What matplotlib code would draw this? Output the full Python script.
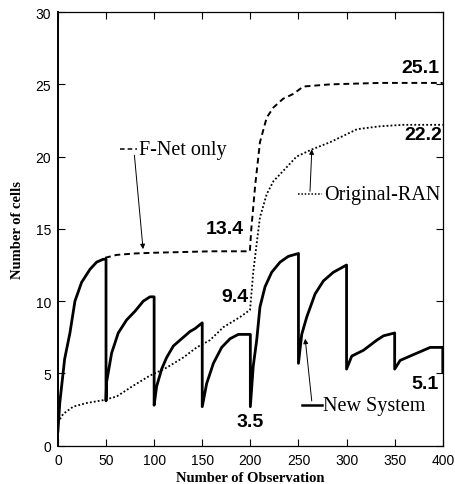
#!/usr/bin/env python3
import matplotlib

matplotlib.use("Agg")
import matplotlib.pyplot as plt

# New System (solid): resets every 50 observations
new_x = [0, 2, 7, 12.5, 17.7, 24.6, 33.3, 40.2, 47.1, 50, 50,
         50.6, 55.8, 62.7, 71.4, 80.1, 88.7, 95.7, 100, 100,
         102.6, 107.8, 113, 120, 128.6, 137.3, 142.5, 150, 150,
         154.6, 161.6, 170.2, 178.9, 187.5, 200, 200,
         203, 206.6, 210, 215.3, 222.2, 230.9, 239.5, 250, 250,
         253.4, 258.6, 267.3, 275.9, 286.3, 300, 300,
         305.4, 317.5, 331.4, 338.3, 350, 350,
         355.7, 366, 376.5, 386.9, 400, 400]
new_y = [1.0, 3.0, 6.0, 7.8, 10.0, 11.3, 12.2, 12.7, 12.9, 12.9, 3.1,
         4.4, 6.4, 7.8, 8.7, 9.3, 10.0, 10.3, 10.3, 2.8,
         4.1, 5.3, 6.1, 6.9, 7.4, 7.9, 8.1, 8.5, 2.7,
         4.3, 5.7, 6.8, 7.4, 7.7, 7.7, 2.7,
         5.5, 7.3, 9.6, 11.0, 12.0, 12.7, 13.1, 13.3, 5.7,
         7.7, 8.9, 10.5, 11.4, 12.0, 12.5, 5.3,
         6.2, 6.6, 7.3, 7.6, 7.8, 5.3,
         5.9, 6.2, 6.5, 6.8, 6.8, 5.1]

# F-Net only (dashed)
fnet_x = [49, 61, 80, 100, 130, 160, 199.5, 201, 205, 210, 217, 224,
          234, 245, 255, 283, 335, 400]
fnet_y = [13.0, 13.2, 13.3, 13.35, 13.4, 13.45, 13.45, 15.0, 18.0, 21.0,
          22.7, 23.4, 24.0, 24.35, 24.85, 25.0, 25.1, 25.1]

# Original-RAN (dotted)
ran_x = [0, 5.5, 15.9, 29.8, 47.1, 61, 78.3, 95.7, 113, 130.3, 144.2, 158,
         172, 189.3, 199.7, 203, 206.6, 210, 217, 224, 234, 248, 264, 283,
         311, 335, 359, 400]
ran_y = [1.6, 2.2, 2.7, 2.95, 3.15, 3.4, 4.15, 4.85, 5.4, 6.1, 6.8, 7.3,
         8.2, 8.9, 9.4, 12.0, 14.0, 15.8, 17.4, 18.3, 19.0, 20.0, 20.5, 21.0,
         21.9, 22.1, 22.2, 22.2]

# value callouts: (text, x, y, ha)
values = [("25.1", 396, 26.2, "right"), ("22.2", 399, 21.5, "right"),
          ("13.4", 193, 15.0, "right"), ("9.4", 198, 10.3, "right"),
          ("3.5", 200, 1.7, "center"), ("5.1", 396, 4.3, "right")]

SERIF = "Liberation Serif"
SANS = "Liberation Sans"
DASH = (0, (3, 2))
DOT = (0, (1, 1.2))


def label_with_sample(ax, x0, x1, y, text, ls, lw):
    ax.plot([x0, x1], [y, y], color="k", ls=ls, lw=lw, clip_on=False)
    ax.text(x1 + 2, y, text, family=SERIF, fontsize=14.5, va="center",
            ha="left")


def main() -> None:
    fig = plt.figure(figsize=(4.56, 4.85), dpi=100)
    ax = fig.add_axes([0.127, 0.079, 0.844, 0.894])

    ax.plot(ran_x, ran_y, color="k", lw=1.3, ls=DOT)
    ax.plot(fnet_x, fnet_y, color="k", lw=1.4, ls=DASH)
    ax.plot(new_x, new_y, color="k", lw=2.0)

    ax.set_xlim(0, 400)
    ax.set_ylim(0, 30)
    ax.set_xticks(range(0, 401, 50))
    ax.set_yticks(range(0, 31, 5))
    ax.tick_params(direction="in", top=True, right=True, length=5,
                   width=0.8, labelsize=10, pad=5)
    for lab in ax.get_xticklabels() + ax.get_yticklabels():
        lab.set_family(SANS)
    for sp in ax.spines.values():
        sp.set_linewidth(0.9)
    ax.spines["left"].set_linewidth(1.4)

    ax.set_xlabel("Number of Observation", family=SERIF, fontweight="bold",
                  fontsize=10.5, labelpad=3)
    ax.set_ylabel("Number of cells", family=SERIF, fontweight="bold",
                  fontsize=10.5, labelpad=8)

    for txt, x, y, ha in values:
        ax.text(x, y, txt, family=SANS, fontweight="bold", fontsize=14,
                ha=ha, va="center")

    arrow = dict(arrowstyle="-|>", color="k", lw=0.7, mutation_scale=7,
                 shrinkA=0, shrinkB=0)
    label_with_sample(ax, 64.5, 82, 20.5, "F-Net only", DASH, 1.1)
    ax.annotate("", xy=(88.5, 13.6), xytext=(79.5, 20.1), arrowprops=arrow)

    label_with_sample(ax, 249.5, 274.5, 17.4, "Original-RAN", DOT, 1.1)
    ax.annotate("", xy=(263.9, 20.5), xytext=(262, 17.6), arrowprops=arrow)

    label_with_sample(ax, 253.5, 274, 2.8, "New System", "-", 1.8)
    ax.annotate("", xy=(257, 7.4), xytext=(263.8, 3.1), arrowprops=arrow)

    fig.savefig("out.png", dpi=100)
    plt.close(fig)


if __name__ == "__main__":
    main()
